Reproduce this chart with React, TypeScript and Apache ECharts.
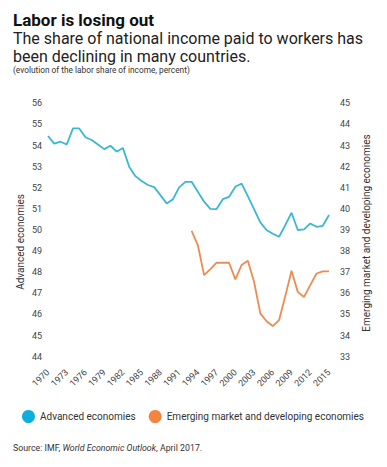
import React, { useEffect, useRef } from "react";
import * as echarts from "echarts";

const years: string[] = [];
for (let y = 1970; y <= 2015; y++) years.push(String(y));

const advanced = [
  54.45, 54.09, 54.18, 54.05, 54.81, 54.81, 54.39, 54.26, 54.05, 53.83,
  53.99, 53.71, 53.88, 53.0, 52.55, 52.32, 52.13, 52.03, 51.65, 51.26,
  51.45, 52.02, 52.28, 52.28, 51.81, 51.34, 51.0, 50.99, 51.46, 51.57,
  52.05, 52.2, 51.6, 50.99, 50.36, 50.0, 49.82, 49.68, 50.23, 50.82,
  50.0, 50.03, 50.31, 50.15, 50.2, 50.71,
];

// 1993 - 2015
const emergingFrom1993 = [
  38.96, 38.28, 36.86, 37.15, 37.45, 37.45, 37.45, 36.66, 37.34, 37.54,
  36.55, 35.05, 34.68, 34.45, 34.73, 35.87, 37.07, 36.07, 35.83, 36.39,
  36.94, 37.04, 37.04,
];

const seriesNames = ["Advanced economies", "Emerging market and developing economies"];
const leftAxisRange = [44, 56];
const rightAxisRange = [33, 45];

const FONT = "Roboto, 'Noto Sans', sans-serif";

export default function App() {
  const ref = useRef<HTMLDivElement>(null);
  useEffect(() => {
    if (!ref.current) return;
    const chart = echarts.init(ref.current, undefined, { renderer: "svg" });
    const emerging: (number | null)[] = years.map((y) => {
      const i = Number(y) - 1993;
      return i >= 0 ? emergingFrom1993[i] : null;
    });
    chart.setOption({
      animation: false,
      textStyle: { fontFamily: FONT },
      grid: { left: 48, right: 58, top: 103.3, bottom: 110.3 },
      legend: {
        left: 17,
        top: 405,
        icon: "circle",
        itemWidth: 13,
        itemHeight: 13,
        itemGap: 13,
        textStyle: { fontSize: 10, color: "#333", fontFamily: FONT },
        data: seriesNames,
      },
      xAxis: {
        type: "category",
        data: years,
        boundaryGap: false,
        axisLine: { show: false },
        axisTick: { show: false },
        splitLine: { show: false },
        axisLabel: {
          interval: 2,
          rotate: 45,
          fontSize: 9,
          color: "#444",
          margin: 14,
          fontFamily: FONT,
        },
      },
      yAxis: [
        {
          type: "value",
          min: leftAxisRange[0],
          max: leftAxisRange[1],
          interval: 1,
          axisLine: { show: false },
          axisTick: { show: false },
          splitLine: { show: false },
          axisLabel: { fontSize: 9, color: "#444", margin: 6, fontFamily: FONT },
        },
        {
          type: "value",
          min: rightAxisRange[0],
          max: rightAxisRange[1],
          interval: 1,
          position: "right",
          axisLine: { show: false },
          axisTick: { show: false },
          splitLine: { show: false },
          axisLabel: { fontSize: 9, color: "#444", margin: 11, fontFamily: FONT },
        },
      ],
      series: [
        {
          name: seriesNames[0],
          type: "line",
          data: advanced,
          yAxisIndex: 0,
          showSymbol: false,
          symbol: "none",
          itemStyle: { color: "#10AEDB" },
          lineStyle: { color: "#3AB8D1", width: 1.8 },
        },
        {
          name: seriesNames[1],
          type: "line",
          data: emerging,
          yAxisIndex: 1,
          showSymbol: false,
          symbol: "none",
          itemStyle: { color: "#F5843F" },
          lineStyle: { color: "#EE8B52", width: 1.8 },
        },
      ],
      graphic: [
        {
          type: "text",
          left: 13,
          top: 11,
          style: {
            text: "Labor is losing out",
            font: `bold 17px ${FONT}`,
            fill: "#111",
          },
        },
        {
          type: "text",
          left: 13,
          top: 29,
          style: {
            text: "The share of national income paid to workers has\nbeen declining in many countries.",
            font: `16px ${FONT}`,
            lineHeight: 18.5,
            fill: "#222",
          },
        },
        {
          type: "text",
          left: 13,
          top: 66,
          style: {
            text: "(evolution of the labor share of income, percent)",
            font: `8.3px ${FONT}`,
            fill: "#333",
          },
        },
        {
          type: "text",
          x: 20,
          y: 242,
          rotation: Math.PI / 2,
          style: {
            text: "Advanced economies",
            font: `10px ${FONT}`,
            fill: "#333",
            textAlign: "center",
            textVerticalAlign: "middle",
          },
        },
        {
          type: "text",
          x: 366,
          y: 233,
          rotation: Math.PI / 2,
          style: {
            text: "Emerging market and developing economies",
            font: `10px ${FONT}`,
            fill: "#333",
            textAlign: "center",
            textVerticalAlign: "middle",
          },
        },
        {
          type: "text",
          left: 13,
          top: 443,
          style: {
            text: "Source: IMF, {i|World Economic Outlook}, April 2017.",
            font: `8.8px ${FONT}`,
            fill: "#333",
            rich: { i: { fontStyle: "italic", fontSize: 8.8, fontFamily: FONT, fill: "#333" } },
          },
        },
      ],
    });
    return () => chart.dispose();
  }, []);
  return (
    <div
      ref={ref}
      style={{ position: "absolute", left: 0, top: 0, width: 387, height: 467 }}
    />
  );
}
